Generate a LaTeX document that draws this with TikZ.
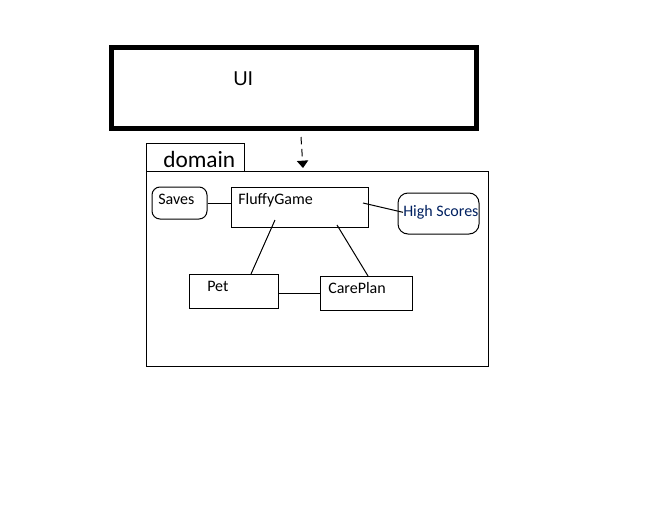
\documentclass[tikz,border=0pt]{standalone}
\usepackage{fontspec}
\setmainfont{Carlito}
\newfontfamily\arialfont{Liberation Sans}
\usetikzlibrary{arrows.meta}
\definecolor{scoreblue}{RGB}{0,32,96}

\begin{document}
\begin{tikzpicture}[x=0.75pt, y=-0.75pt,
		box/.style={draw, line width=0.75pt, inner sep=0pt},
		tag/.style={anchor=base west, inner sep=0pt, font=\fontsize{12}{14}\selectfont},
		link/.style={line width=0.75pt}]
		\useasboundingbox (0,0) rectangle (666,528);

		% layers
		\node[box, line width=3.75pt, minimum width=273.75pt, minimum height=60.75pt] (ui) at (294,88) {};
		\node[anchor=west, inner sep=0pt, font=\arialfont\fontsize{15}{17}\selectfont] (uitxt) at (233,78.5) {UI};
		\node[box, minimum width=73.5pt, minimum height=21pt] (tab) at (195,157) {};
		\node[anchor=base west, inner sep=0pt, font=\fontsize{17.5}{20}\selectfont] (tabtxt) at (163,167.5) {domain};
		\node[box, minimum width=256.5pt, minimum height=146.25pt] (domain) at (317,268.5) {};

		% classes
		\node[box, rounded corners=6pt, minimum width=41.25pt, minimum height=24pt] (saves) at (179.5,203) {};
		\node[tag] (savestxt) at (158,204) {Saves};
		\node[box, minimum width=102.75pt, minimum height=30pt] (fluffygame) at (299.5,207) {};
		\node[tag] (fluffytxt) at (238,204) {FluffyGame};
		\node[box, rounded corners=7.5pt, minimum width=60.75pt, minimum height=30.75pt] (highscores) at (438.5,213.5) {};
		\node[tag, text=scoreblue] (scorestxt) at (403,216.5) {High Scores};
		\node[box, minimum width=66.75pt, minimum height=25.5pt] (pet) at (233.5,291) {};
		\node[tag] (pettxt) at (207,291) {Pet};
		\node[box, minimum width=69pt, minimum height=25.5pt] (careplan) at (366,293) {};
		\node[tag] (caretxt) at (328,293) {CarePlan};

		\coordinate (fg-right) at (363,203);
		\coordinate (fg-left) at (275,220);
		\coordinate (fg-mid) at (337,225);
		\coordinate (pet-top) at (251,274);
		\coordinate (care-top) at (368,276);
		\coordinate (ui-dep) at (301,137);
		\coordinate (dom-dep) at (303,168);

		\draw[link] (saves.east) -- (fluffygame.west |- saves.east);
		\draw[link] (fg-right) -- (scorestxt.west);
		\draw[link] (fg-left) -- (pet-top);
		\draw[link] (fg-mid) -- (care-top);
		\draw[link] (careplan.west -| pet.east) -- (careplan.west);

		% dependency
		\draw[link, dash pattern=on 5.5pt off 3.5pt, -{Triangle[width=8.5pt, length=5.5pt]}] (ui-dep) -- (dom-dep);
	\end{tikzpicture}
\end{document}
